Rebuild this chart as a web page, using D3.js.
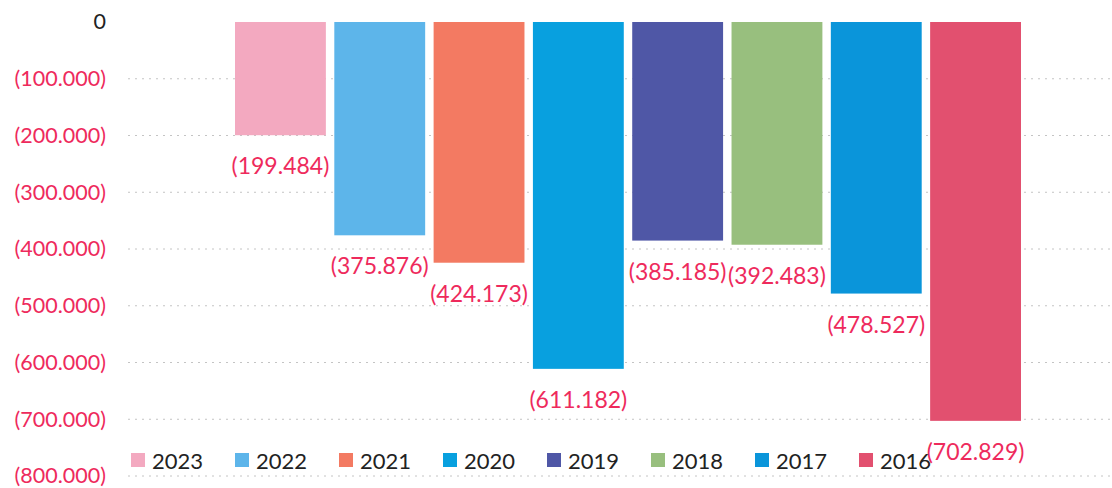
<!DOCTYPE html>
<html><head><meta charset="utf-8">
<script src="https://cdn.jsdelivr.net/npm/d3@7"></script>
<style>html,body{margin:0;padding:0;background:#fff;}svg{display:block;}</style>
</head><body>
<svg id="chart" width="1112" height="488"></svg>
<script>
const years = ["2023","2022","2021","2020","2019","2018","2017","2016"];
const values = [-199484,-375876,-424173,-611182,-385185,-392483,-478527,-702829];
const labels = ["(199.484)","(375.876)","(424.173)","(611.182)","(385.185)","(392.483)","(478.527)","(702.829)"];
const colors = ["#f3a9c0","#5db5ea","#f37a62","#08a0df","#4f57a6","#98bf7e","#0a95da","#e2506f"];
const tickValues = [0,-100000,-200000,-300000,-400000,-500000,-600000,-700000,-800000];
const tickLabels = ["0","(100.000)","(200.000)","(300.000)","(400.000)","(500.000)","(600.000)","(700.000)","(800.000)"];

const svg = d3.select("#chart");
const red = "#ee2a5c";
const font = "Lato, 'Open Sans', sans-serif";

const y = d3.scaleLinear().domain([0,-800000]).range([22,476]);
const x = d3.scaleBand().domain(years).range([235,1021]).paddingInner(0.085).paddingOuter(0);

// gridlines
svg.append("g").selectAll("line").data(tickValues.slice(1)).join("line")
  .attr("x1",128).attr("x2",1112)
  .attr("y1",d=>y(d)).attr("y2",d=>y(d))
  .attr("stroke","#c4c4c4").attr("stroke-width",1).attr("stroke-dasharray","2,5");

// y axis labels
const yAxis = d3.axisLeft(y).tickValues(tickValues).tickFormat((d,i)=>tickLabels[i]).tickSize(0).tickPadding(0);
const ag = svg.append("g").attr("transform","translate(106,0)").call(yAxis);
ag.select(".domain").remove();
ag.selectAll("text").attr("font-family",font).attr("font-size",21.5)
  .attr("fill",(d)=> d===0 ? "#222" : red);

// bars
svg.append("g").selectAll("rect").data(years).join("rect")
  .attr("x",d=>x(d)).attr("width",x.bandwidth())
  .attr("y",y(0)).attr("height",(d,i)=>y(values[i])-y(0))
  .attr("fill",(d,i)=>colors[i]);

// data labels
svg.append("g").selectAll("text").data(years).join("text")
  .attr("x",d=>x(d)+x.bandwidth()/2)
  .attr("y",(d,i)=>y(values[i])+30)
  .attr("text-anchor","middle").attr("dominant-baseline","central")
  .attr("font-family",font).attr("font-size",23).attr("fill",red)
  .text((d,i)=>labels[i]);

// legend
const lg = svg.append("g").selectAll("g").data(years).join("g")
  .attr("transform",(d,i)=>`translate(${131+i*104},460)`);
lg.append("rect").attr("x",0).attr("y",-7).attr("width",14).attr("height",14)
  .attr("fill",(d,i)=>colors[i]);
lg.append("text").attr("x",21).attr("y",0).attr("dominant-baseline","central")
  .attr("font-family",font).attr("font-size",22).attr("fill","#222").text(d=>d);
</script>
</body></html>
